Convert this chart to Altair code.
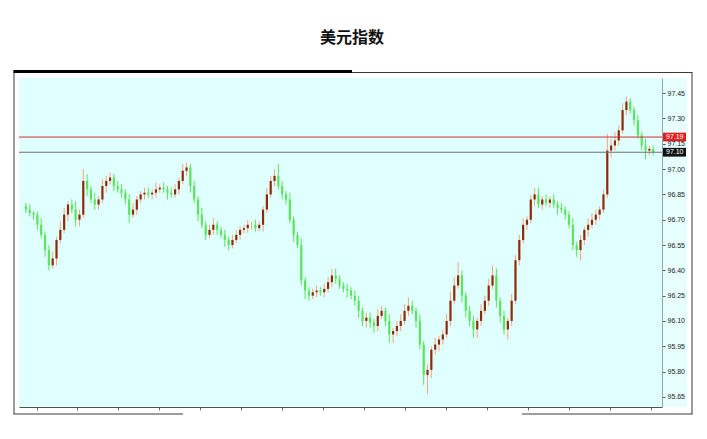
import altair as alt
import pandas as pd

# ---- data ----
first_open = 96.78
closes = [
    96.76, 96.74, 96.73, 96.67, 96.61, 96.52, 96.43, 96.47, 96.58, 96.64, 96.73, 96.79, 96.76, 96.70, 96.73,
    96.93, 96.88, 96.82, 96.79, 96.82, 96.90, 96.93, 96.95, 96.90, 96.88, 96.86, 96.82, 96.73, 96.76, 96.82,
    96.85, 96.86, 96.85, 96.86, 96.88, 96.89, 96.88, 96.86, 96.85, 96.88, 96.93, 96.99, 97.01, 96.90, 96.82,
    96.73, 96.67, 96.61, 96.64, 96.67, 96.64, 96.61, 96.58, 96.55, 96.58, 96.61, 96.64, 96.65, 96.67, 96.67,
    96.65, 96.67, 96.76, 96.85, 96.93, 96.96, 96.90, 96.85, 96.82, 96.70, 96.61, 96.55, 96.34, 96.28, 96.25,
    96.27, 96.28, 96.27, 96.29, 96.33, 96.37, 96.35, 96.31, 96.29, 96.28, 96.25, 96.22, 96.16, 96.10, 96.12,
    96.09, 96.07, 96.13, 96.16, 96.10, 96.02, 96.04, 96.07, 96.10, 96.16, 96.19, 96.16, 96.10, 95.96, 95.78,
    95.81, 95.93, 95.96, 95.99, 96.02, 96.10, 96.22, 96.31, 96.37, 96.25, 96.16, 96.10, 96.05, 96.10, 96.16,
    96.22, 96.31, 96.37, 96.22, 96.13, 96.05, 96.10, 96.22, 96.46, 96.58, 96.67, 96.70, 96.82, 96.85, 96.79,
    96.82, 96.80, 96.82, 96.79, 96.77, 96.76, 96.73, 96.67, 96.55, 96.52, 96.58, 96.64, 96.67, 96.70, 96.73,
    96.76, 96.85, 97.11, 97.14, 97.17, 97.23, 97.35, 97.40, 97.35, 97.29, 97.20, 97.14, 97.11, 97.12, 97.10,
]
wick_hi = [
    0.02, 0.03, 0.01, 0.02, 0.04, 0.02, 0.03, 0.04, 0.02, 0.05, 0.04, 0.02, 0.03, 0.05, 0.03,
    0.07, 0.04, 0.02, 0.04, 0.02, 0.04, 0.03, 0.03, 0.02, 0.03, 0.03, 0.02, 0.03, 0.04, 0.02,
    0.02, 0.03, 0.03, 0.02, 0.04, 0.02, 0.03, 0.02, 0.03, 0.03, 0.02, 0.04, 0.03, 0.02, 0.03,
    0.02, 0.04, 0.02, 0.03, 0.04, 0.02, 0.02, 0.03, 0.02, 0.03, 0.03, 0.02, 0.02, 0.03, 0.02,
    0.03, 0.02, 0.02, 0.04, 0.03, 0.04, 0.07, 0.03, 0.02, 0.04, 0.02, 0.02, 0.04, 0.02, 0.02,
    0.02, 0.03, 0.02, 0.03, 0.03, 0.04, 0.04, 0.02, 0.02, 0.03, 0.02, 0.03, 0.03, 0.02, 0.03,
    0.03, 0.02, 0.04, 0.03, 0.02, 0.04, 0.02, 0.03, 0.04, 0.04, 0.05, 0.03, 0.02, 0.04, 0.02,
    0.03, 0.02, 0.04, 0.02, 0.03, 0.04, 0.05, 0.05, 0.08, 0.03, 0.02, 0.03, 0.03, 0.02, 0.04,
    0.03, 0.04, 0.06, 0.04, 0.02, 0.03, 0.02, 0.04, 0.03, 0.03, 0.04, 0.02, 0.03, 0.04, 0.04,
    0.02, 0.03, 0.02, 0.03, 0.02, 0.03, 0.02, 0.02, 0.04, 0.02, 0.03, 0.02, 0.04, 0.04, 0.03,
    0.02, 0.03, 0.10, 0.04, 0.05, 0.03, 0.04, 0.03, 0.02, 0.02, 0.03, 0.02, 0.04, 0.02, 0.02,
]
wick_lo = [
    0.02, 0.02, 0.03, 0.03, 0.02, 0.04, 0.03, 0.02, 0.04, 0.02, 0.02, 0.04, 0.02, 0.04, 0.04,
    0.02, 0.04, 0.02, 0.03, 0.03, 0.02, 0.04, 0.02, 0.03, 0.02, 0.03, 0.03, 0.05, 0.02, 0.03,
    0.02, 0.03, 0.02, 0.03, 0.03, 0.02, 0.02, 0.04, 0.02, 0.02, 0.03, 0.02, 0.03, 0.04, 0.02,
    0.04, 0.02, 0.03, 0.02, 0.03, 0.03, 0.02, 0.04, 0.03, 0.02, 0.02, 0.03, 0.02, 0.03, 0.03,
    0.02, 0.02, 0.04, 0.02, 0.02, 0.03, 0.02, 0.03, 0.03, 0.02, 0.04, 0.02, 0.03, 0.05, 0.03,
    0.02, 0.03, 0.02, 0.03, 0.02, 0.03, 0.03, 0.02, 0.02, 0.04, 0.02, 0.03, 0.04, 0.03, 0.04,
    0.03, 0.04, 0.03, 0.02, 0.03, 0.05, 0.05, 0.03, 0.03, 0.02, 0.03, 0.02, 0.04, 0.03, 0.06,
    0.11, 0.05, 0.03, 0.04, 0.03, 0.02, 0.03, 0.02, 0.02, 0.04, 0.04, 0.03, 0.05, 0.05, 0.03,
    0.02, 0.03, 0.02, 0.04, 0.04, 0.03, 0.06, 0.03, 0.02, 0.03, 0.02, 0.03, 0.02, 0.04, 0.02,
    0.03, 0.02, 0.03, 0.02, 0.04, 0.02, 0.03, 0.02, 0.03, 0.04, 0.06, 0.03, 0.04, 0.02, 0.03,
    0.03, 0.02, 0.02, 0.04, 0.03, 0.03, 0.02, 0.03, 0.02, 0.03, 0.02, 0.03, 0.05, 0.03, 0.02,
]
y_ticks = [95.65, 95.80, 95.95, 96.10, 96.25, 96.40, 96.55, 96.70, 96.85, 97.00, 97.15, 97.30, 97.45]
x_ticks = [2.77, 13.48, 24.19, 34.9, 45.61, 56.32, 67.03, 77.74, 88.45, 99.16,
           109.87, 120.58, 131.29, 142.0, 152.71, 163.42]
ref_levels = [97.19, 97.10]
ref_labels = ["97.19", "97.10"]
ref_line_colors = ["#D03030", "#707070"]
ref_box_colors = ["#E02020", "#111111"]
title_text = "美元指数"

# ---- build table ----
opens = [first_open] + closes[:-1]
df = pd.DataFrame({
    "i": list(range(len(closes))),
    "open": opens,
    "close": closes,
})
df["high"] = [max(o, c) + w for o, c, w in zip(opens, closes, wick_hi)]
df["low"] = [min(o, c) - w for o, c, w in zip(opens, closes, wick_lo)]

W, H = 643, 329
UP_BODY = "#8E2A08"
UP_WICK = "#F2A57E"
DOWN = "#5CE45C"

xscale = alt.Scale(domain=[-0.5, 165], nice=False, zero=False)
yscale = alt.Scale(domain=[95.59, 97.54], nice=False, zero=False)
xaxis = alt.Axis(values=x_ticks, labels=False, title="", grid=False, tickSize=3,
                 domainColor="#505050", tickColor="#707070", zindex=1)
yaxis = alt.Axis(orient="right", values=y_ticks, format=".2f", title="", grid=False,
                 tickSize=3, tickColor="#555", domainColor="#8FA8B2",
                 labelFont="Liberation Sans", labelFontSize=7, labelColor="#222",
                 labelPadding=2, zindex=1)

X = alt.X("i:Q", scale=xscale, axis=xaxis)
is_up = "datum.close >= datum.open"

base = alt.Chart(df)
wicks = base.mark_rule(strokeWidth=1).encode(
    x=X,
    y=alt.Y("low:Q", scale=yscale, axis=yaxis),
    y2="high:Q",
    color=alt.condition(is_up, alt.value(UP_WICK), alt.value(DOWN)),
)
bodies = base.mark_bar(size=2.2).encode(
    x=X,
    y=alt.Y("open:Q", scale=yscale, axis=yaxis),
    y2="close:Q",
    color=alt.condition(is_up, alt.value(UP_BODY), alt.value(DOWN)),
)

ref_df = pd.DataFrame({
    "level": ref_levels,
    "label": ref_labels,
    "lc": ref_line_colors,
    "bc": ref_box_colors,
})
ref_df["top"] = ref_df["level"] + 0.026
ref_df["bot"] = ref_df["level"] - 0.026
ref = alt.Chart(ref_df)
ref_lines = ref.mark_rule(strokeWidth=1).encode(
    y=alt.Y("level:Q", scale=yscale, axis=yaxis),
    color=alt.Color("lc:N", scale=None),
)
ref_boxes = ref.mark_rect().encode(
    x=alt.value(W + 1), x2=alt.value(W + 24),
    y=alt.Y("top:Q", scale=yscale, axis=yaxis), y2="bot:Q",
    color=alt.Color("bc:N", scale=None),
)
ref_text = ref.mark_text(align="left", baseline="middle", font="Liberation Sans",
                         fontSize=7, color="white").encode(
    x=alt.value(W + 4),
    y=alt.Y("level:Q", scale=yscale, axis=yaxis),
    text="label:N",
)

one = alt.Chart(pd.DataFrame({"t": [title_text]}))
label_bg = one.mark_rect(color="#E8FFFF").encode(
    x=alt.value(W), x2=alt.value(W + 25), y=alt.value(0), y2=alt.value(H))
title = one.mark_text(font="Noto Sans CJK SC", fontSize=16, fontWeight="bold",
                      color="#111", align="center", baseline="middle").encode(
    x=alt.value(333), y=alt.value(-40), text="t:N")

FR = "#3A3A3A"
frame_left = one.mark_rule(color=FR, strokeWidth=1).encode(
    x=alt.value(-5), y=alt.value(-8), y2=alt.value(336))
frame_right = one.mark_rule(color=FR, strokeWidth=1).encode(
    x=alt.value(673), y=alt.value(-5.5), y2=alt.value(336))
frame_top_thick = one.mark_rule(color="#000", strokeWidth=3).encode(
    x=alt.value(-5.5), x2=alt.value(333), y=alt.value(-6.5))
frame_top_thin = one.mark_rule(color=FR, strokeWidth=1).encode(
    x=alt.value(333), x2=alt.value(673.5), y=alt.value(-5.5))
frame_bot1 = one.mark_rule(color=FR, strokeWidth=1).encode(
    x=alt.value(-5.5), x2=alt.value(164), y=alt.value(336))
frame_bot2 = one.mark_rule(color=FR, strokeWidth=1).encode(
    x=alt.value(503), x2=alt.value(673.5), y=alt.value(336))

chart = alt.layer(
    label_bg, wicks, bodies, ref_lines, ref_boxes, ref_text, title,
    frame_left, frame_right, frame_top_thick, frame_top_thin, frame_bot1, frame_bot2,
).properties(
    width=W, height=H,
    autosize=alt.AutoSizeParams(type="none"),
    padding={"left": 11, "top": 70, "right": 33, "bottom": 10},
    background="white",
).configure_view(fill="#E0FFFF", strokeWidth=0)

chart.save("out.html", embed_options={"renderer": "svg", "actions": False})
